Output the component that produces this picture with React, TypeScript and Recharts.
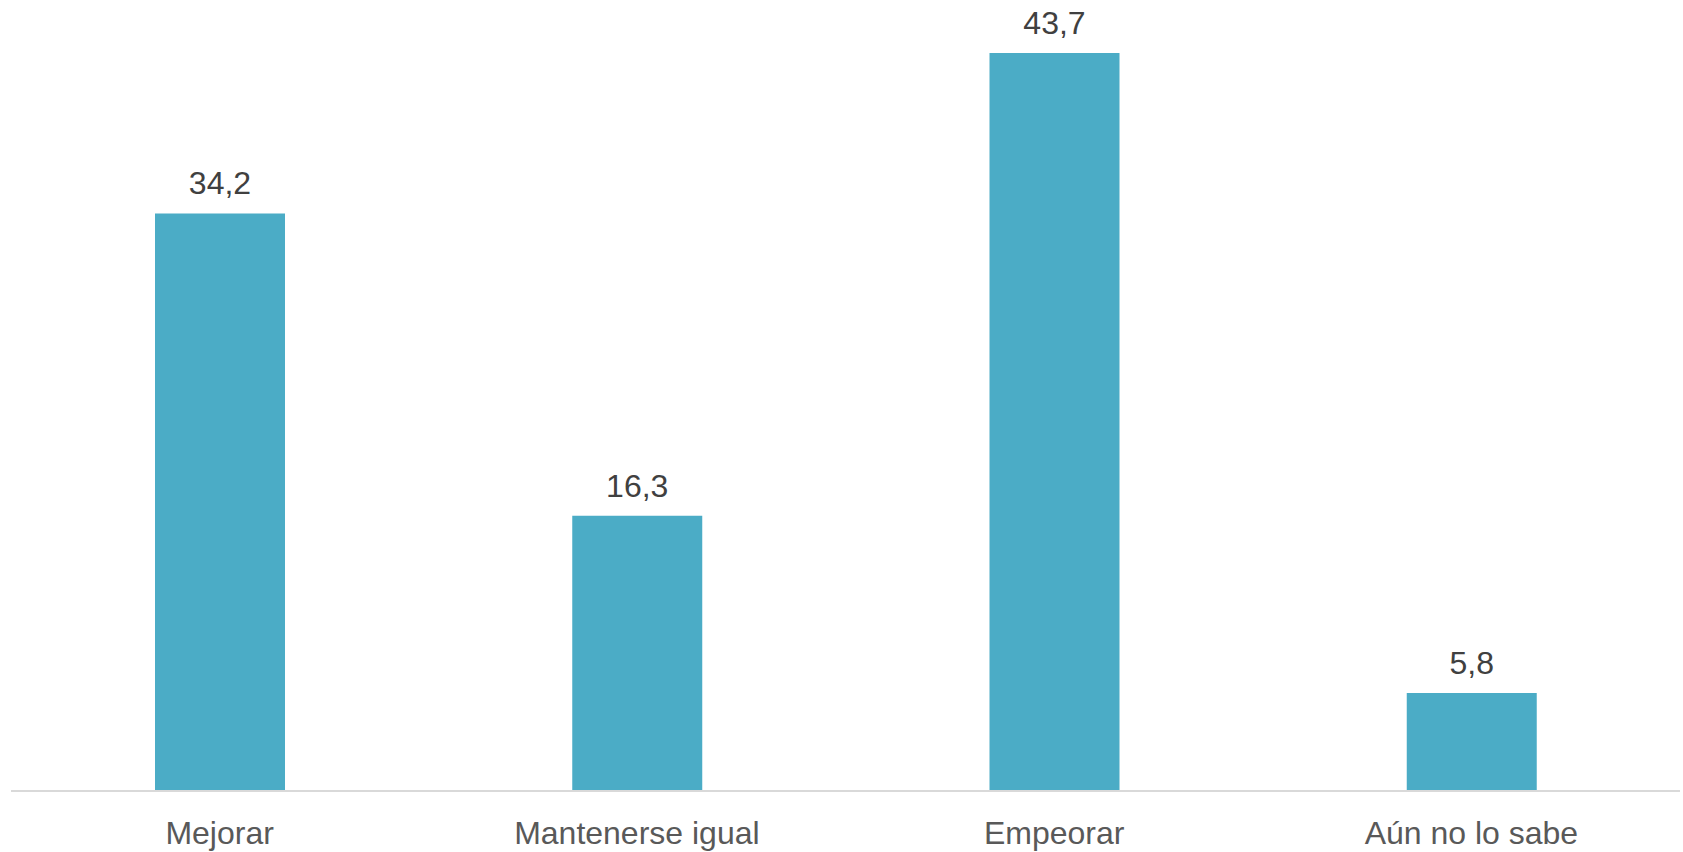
import React from 'react';
import { BarChart, Bar, XAxis, YAxis, LabelList } from 'recharts';

// Expectativa sobre la situación
const categories = ['Mejorar', 'Mantenerse igual', 'Empeorar', 'Aún no lo sabe'];
const values = [34.2, 16.3, 43.7, 5.8];

const data = categories.map((name, i) => ({ name, value: values[i] }));

const fmt = (v: any) => String(v).replace('.', ',');

const App: React.FC = () => {
  return (
    <div style={{ position: 'absolute', left: 0, top: 0, width: 1683, height: 852, background: '#fff' }}>
      <BarChart
        width={1683}
        height={852}
        data={data}
        margin={{ top: 31, right: 3, bottom: 0, left: 11 }}
      >
        <XAxis
          dataKey="name"
          height={61}
          tickLine={false}
          tickSize={0}
          tickMargin={30}
          axisLine={{ stroke: '#d9d9d9', strokeWidth: 2 }}
          tick={{ fill: '#595959', fontSize: 32, fontFamily: 'Liberation Sans, Arial, sans-serif' }}
        />
        <YAxis hide domain={[0, 45]} />
        <Bar dataKey="value" fill="#4BACC6" barSize={130} isAnimationActive={false}>
          <LabelList
            dataKey="value"
            position="top"
            offset={19}
            formatter={fmt}
            style={{ fill: '#404040', fontSize: 32, fontFamily: 'Liberation Sans, Arial, sans-serif' }}
          />
        </Bar>
      </BarChart>
    </div>
  );
};

export default App;
